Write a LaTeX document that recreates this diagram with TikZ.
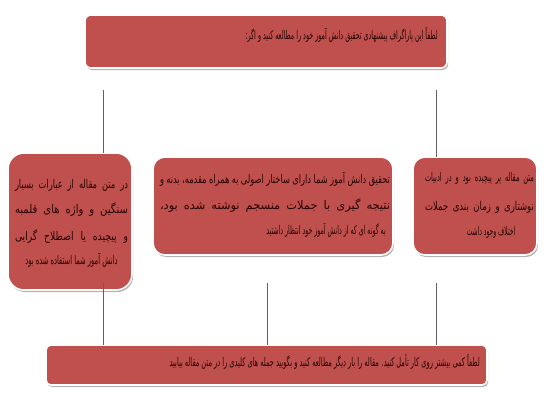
\documentclass[tikz,border=0pt]{standalone}
\usepackage{fontspec}
\usetikzlibrary{shadows}
\TeXXeTstate=1
\newcommand\af[1]{\fontspec[Script=Arabic,FakeStretch=#1]{DejaVu Sans}\fontsize{12}{13}\selectfont}
\definecolor{boxred}{HTML}{C0504D}
\definecolor{txtdark}{HTML}{250404}
\definecolor{linegray}{HTML}{606060}
\newcommand\jline[2]{\hbox to #1pt{#2}}
\begin{document}
\begin{tikzpicture}[x=1pt,y=-1pt,
  redbox/.style={rectangle, fill=boxred, draw=white, line width=1.6pt, inner sep=0pt, outer sep=0pt,
    drop shadow={shadow xshift=1.2pt, shadow yshift=-2pt, fill=black!50, opacity=0.6}},
  txt/.style={inner sep=0pt, text=txtdark, anchor=center},
  conn/.style={draw=linegray, line width=0.9pt}]
\useasboundingbox[fill=white] (0,0) rectangle (545,400);

% boxes
\node[redbox, rounded corners=6pt, minimum width=362pt, minimum height=53pt] (top) at (266,41.5) {};
\node[redbox, rounded corners=16pt, minimum width=124pt, minimum height=137pt] (lbox) at (70,221.5) {};
\node[redbox, rounded corners=12pt, minimum width=240pt, minimum height=98pt] (mbox) at (273,206) {};
\node[redbox, rounded corners=12pt, minimum width=124pt, minimum height=98pt] (rbox) at (475,206) {};
\node[redbox, rounded corners=5pt, minimum width=441pt, minimum height=40pt] (bbox) at (266.5,365) {};

% texts
\node[txt, anchor=east, font=\af{0.53}] (ttop) at (438,35) {\beginR لطفاً این پاراگراف پیشنهادی تحقیق دانش آموز خود را مطالعه کنید و اگر:\endR};

\node[txt, font=\af{0.69}] (l1) at (71.5,185) {\jline{113}{\beginR در متن مقاله از عبارات بسیار\endR}};
\node[txt, font=\af{0.84}] (l2) at (71.5,210) {\jline{113}{\beginR سنگین و واژه های قلمبه\endR}};
\node[txt, font=\af{0.77}] (l3) at (71.5,237) {\jline{113}{\beginR و پیچیده یا اصطلاح گرایی\endR}};
\node[txt, font=\af{0.56}] (l4) at (71.5,260) {\beginR دانش آموز شما استفاده شده بود\endR};

\node[txt, font=\af{0.69}] (m1) at (275,179) {\jline{230}{\beginR تحقیق دانش آموز شما دارای ساختار اصولی به همراه مقدمه، بدنه و\endR}};
\node[txt, font=\af{0.95}] (m2) at (275,206) {\jline{230}{\beginR نتیجه گیری با جملات منسجم نوشته شده بود،\endR}};
\node[txt, anchor=east, font=\af{0.52}] (m3) at (386,230) {\beginR به گونه ای که از دانش آموز خود انتظار داشتید\endR};

\node[txt, font=\af{0.55}] (r1) at (479.5,178) {\jline{109}{\beginR متن مقاله پر پیچیده بود و در ادبیات\endR}};
\node[txt, font=\af{0.71}] (r2) at (479.5,207) {\jline{109}{\beginR نوشتاری و زمان بندی جملات\endR}};
\node[txt, font=\af{0.5}] (r3) at (491,232) {\beginR اختلاف وجود داشت\endR};

\node[txt, anchor=east, font=\af{0.55}] (tbot) at (480,362) {\beginR لطفاً کمی بیشتر روی کار تأمل کنید. مقاله را بار دیگر مطالعه کنید و بگویید جمله های کلیدی را در متن مقاله بیابید\endR};

% connectors
\coordinate (c1) at (103,90);
\coordinate (c2) at (436,90);
\coordinate (d1) at (103,283);
\coordinate (d2) at (267,283);
\coordinate (d3) at (436,283);
\draw[conn] (c1) -- (c1 |- lbox.north);
\draw[conn] (c2) -- (c2 |- rbox.north);
\draw[conn] (d1) -- (d1 |- bbox.north);
\draw[conn] (d2) -- (d2 |- bbox.north);
\draw[conn] (d3) -- (d3 |- bbox.north);
\end{tikzpicture}
\end{document}
